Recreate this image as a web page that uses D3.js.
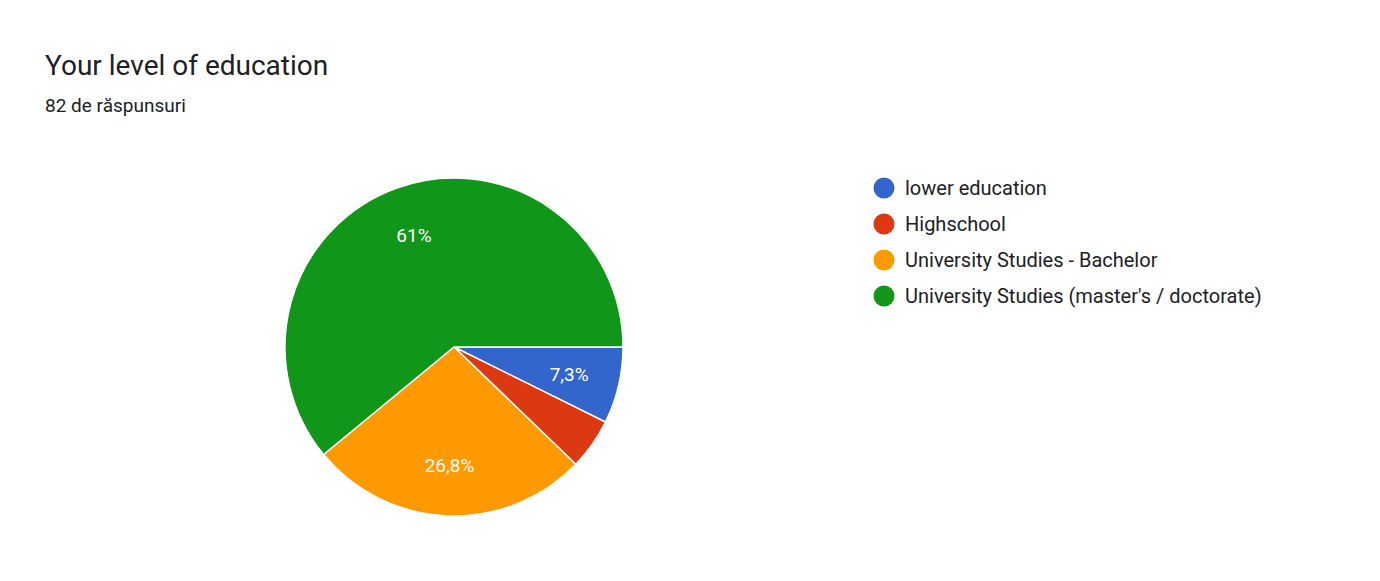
<!DOCTYPE html>
<html><head><meta charset="utf-8">
<script src="https://cdn.jsdelivr.net/npm/d3@7"></script>
<style>body{margin:0;background:#fff;font-family:Roboto,Arial,sans-serif}</style>
</head><body><svg id="c" width="1380" height="581"></svg>
<script>
const categories = ["lower education","Highschool","University Studies - Bachelor","University Studies (master's / doctorate)"];
const counts = [6,4,22,50];
const labels = ["7,3%","","26,8%","61%"];
const colors = ["#3366cc","#dc3912","#ff9900","#109618"];

const svg = d3.select("#c");
svg.append("text").attr("x",45).attr("y",75).attr("font-size",28).attr("fill","#202124").text("Your level of education");
svg.append("text").attr("x",45).attr("y",112).attr("font-size",19).attr("fill","#202124").text("82 de răspunsuri");

const cx=454, cy=347, r=169;
const pie = d3.pie().sort(null).startAngle(Math.PI/2).endAngle(Math.PI/2+2*Math.PI);
const arcs = pie(counts);
const arc = d3.arc().innerRadius(0).outerRadius(r);
const labelArc = d3.arc().innerRadius(r*0.7).outerRadius(r*0.7);
const g = svg.append("g").attr("transform",`translate(${cx},${cy})`);
g.selectAll("path").data(arcs).join("path").attr("d",arc)
  .attr("fill",(d,i)=>colors[i]).attr("stroke","#fff").attr("stroke-width",1.5);
g.selectAll("text").data(arcs).join("text")
  .attr("transform",d=>`translate(${labelArc.centroid(d)})`)
  .attr("text-anchor","middle").attr("dy","0.35em").attr("font-size",19).attr("fill","#fff")
  .text((d,i)=>labels[i]);

const lg = svg.append("g");
categories.forEach((c,i)=>{
  const y = 188 + i*36;
  lg.append("circle").attr("cx",884).attr("cy",y).attr("r",10.5).attr("fill",colors[i]);
  lg.append("text").attr("x",905).attr("y",y).attr("dy","0.35em").attr("font-size",20).attr("fill","#202124").text(c);
});
</script></body></html>
